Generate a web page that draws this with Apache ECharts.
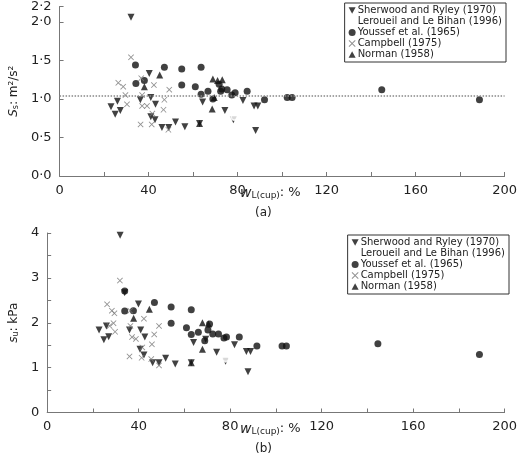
<!DOCTYPE html>
<html>
<head>
<meta charset="utf-8">
<script src="https://cdn.jsdelivr.net/npm/echarts@6/dist/echarts.min.js"></script>
<style>html,body{margin:0;padding:0;background:#fff}#chart{width:520px;height:462px}</style>
</head>
<body>
<div id="chart"></div>
<script>
// panel (a): S_s
var sherwoodA = [[32.1,2.06],[23.1,0.90],[25.0,0.80],[26,0.97],[27.3,0.85],[36.3,0.99],[40.3,1.33],[41,1.02],[41,0.77],[42.9,0.73],[43.1,0.93],[46,0.63],[49.1,0.63],[52.1,0.70],[56.3,0.64],[62.9,0.68],[64.3,0.96],[74.3,0.85],[78.1,0.73],[82.4,0.98],[87.4,0.91],[89.1,0.91],[88.1,0.59]];
var leroueilA = [[25.1,1.40],[35.3,1.34],[45.3,1.08],[56,1.08],[72,0.75],[78.6,0.77]];
var youssefA = [[34.1,1.44],[34.3,1.20],[38.1,1.24],[47.1,1.41],[54.9,1.39],[54.9,1.18],[63.6,1.41],[61,1.16],[63.6,1.06],[66.7,1.10],[68.9,1.00],[71.7,1.19],[72.9,1.13],[72.4,1.10],[75.3,1.12],[77.4,1.05],[78.9,1.08],[84.3,1.10],[92.1,0.99],[102.3,1.02],[104.5,1.02],[144.8,1.12],[188.7,0.99]];
var campbellA = [[32.1,1.54],[26.4,1.21],[28.6,1.16],[29.6,1.05],[30.3,0.93],[36.7,1.27],[37.1,1.05],[37.1,0.91],[39.3,0.91],[36.4,0.67],[41.4,0.67],[42.4,1.18],[41.7,0.81],[46.7,0.86],[47.1,0.99],[49.3,1.12],[48.9,0.60]];
var normanA = [[38.1,1.16],[45,1.31],[68.6,0.87],[73.1,1.25],[71,1.24],[68.9,1.26],[62.9,0.68],[69.5,1.02]];
var meanA = 1.04;
// panel (b): s_u
var sherwoodB = [[31.9,3.95],[22.7,1.84],[24.8,1.62],[25.9,1.93],[26.9,1.69],[33.9,2.67],[36,1.84],[39.9,2.42],[40.9,1.84],[40.6,1.41],[42.7,1.68],[42.3,1.28],[46.1,1.11],[48.9,1.11],[51.8,1.21],[56,1.08],[63,1.11],[64,1.56],[69.3,1.63],[74.1,1.34],[78,1.14],[81.9,1.51],[87.1,1.36],[88.9,1.36],[87.8,0.91]];
var leroueilB = [[24.8,2.79],[34.9,2.51],[45.1,1.90],[55.9,1.82],[71.7,1.19],[78,1.21]];
var youssefB = [[33.9,2.71],[33.9,2.26],[37.7,2.27],[46.9,2.45],[54.2,2.35],[54.2,1.99],[63,2.29],[60.9,1.89],[63,1.74],[66.1,1.79],[68.9,1.60],[71,1.97],[70.3,1.84],[72.4,1.75],[74.9,1.75],[77.3,1.66],[78.4,1.68],[84,1.68],[91.7,1.48],[102.7,1.48],[104.6,1.48],[144.6,1.53],[189,1.29]];
var campbellB = [[31.8,2.94],[26.2,2.41],[28.3,2.27],[29.4,2.21],[29,1.99],[27.3,1.93],[29.7,1.80],[36.3,2.27],[36.4,1.93],[37.1,1.68],[38.8,1.64],[36,1.25],[41.3,1.22],[41.6,1.45],[42.3,2.09],[46.8,1.74],[45.8,1.52],[48.9,1.93],[48.9,1.05],[45.5,1.19]];
var normanB = [[37.8,2.10],[44.7,2.30],[67.9,1.41],[67.9,2.00],[63,1.11],[70.5,1.97]];
var names = ['Sherwood and Ryley (1970)','Leroueil and Le Bihan (1996)','Youssef et al. (1965)','Campbell (1975)','Norman (1958)'];

var crossPath = 'path://M0,1L1,0L5,4L9,0L10,1L6,5L10,9L9,10L5,6L1,10L0,9L4,5Z';
var downTri = 'path://M0,0L10,0L5,9Z';
var upTri = 'path://M0,9L10,9L5,0Z';
var font = 'DejaVu Sans';
var axisCol = '#777';

function xAxis(i) {
  return {gridIndex:i, type:'value', min:0, max:200, interval:40,
    axisLine:{lineStyle:{color:axisCol}}, axisTick:{inside:true, length:4, lineStyle:{color:axisCol}},
    minorTick:{show:true, splitNumber:2, length:4, lineStyle:{color:axisCol}},
    splitLine:{show:false}, axisLabel:{color:'#222', fontSize:13, fontFamily:font}};
}
function yAxis(i, max, decimals, nm) {
  return {gridIndex:i, type:'value', min:0, max:max, interval:0.5,
    axisLine:{show:true, lineStyle:{color:axisCol}}, axisTick:{inside:true, length:4, lineStyle:{color:axisCol}},
    splitLine:{show:false}, name:nm, nameLocation:'middle', nameGap:decimals ? 24 : 18, nameRotate:90,
    nameTextStyle:{color:'#222', fontSize:12, fontFamily:font,
      rich:{i:{fontStyle:'italic', fontSize:12, fontFamily:font}, s:{fontSize:8, verticalAlign:'bottom', fontFamily:font}}},
    axisLabel:{color:'#222', fontSize:13, fontFamily:font, formatter:function(v){
      if (decimals) return v.toFixed(1).replace('.', '·');
      return Number.isInteger(v) ? String(v) : '';
    }}};
}
function sets(i, s, l, y, c, n) {
  var base = {type:'scatter', xAxisIndex:i, yAxisIndex:i, symbolSize:7};
  return [
    Object.assign({}, base, {name:names[0], data:s, symbol:downTri, itemStyle:{color:'#111'}}),
    Object.assign({}, base, {name:names[1], data:l, symbol:'emptyCircle', itemStyle:{color:'#fff', borderColor:'#888', borderWidth:1}}),
    Object.assign({}, base, {name:names[2], data:y, symbol:'circle', itemStyle:{color:'#111'}}),
    Object.assign({}, base, {name:names[3], data:c, symbol:crossPath, symbolSize:6, itemStyle:{color:'#777'}}),
    Object.assign({}, base, {name:names[4], data:n, symbol:upTri, itemStyle:{color:'#111'}})
  ];
}
var icons = [downTri, 'emptyCircle', 'circle', crossPath, upTri];
function legend(top, right) {
  return {data:names.map(function(nm, k){return {name:nm, icon:icons[k]};}),
    orient:'vertical', top:top, right:right, itemGap:0, itemWidth:7, itemHeight:7,
    padding:[2,4,2,3], borderColor:'#333', borderWidth:1, borderRadius:0, backgroundColor:'#fff',
    textStyle:{fontSize:10, fontFamily:font, color:'#222', padding:[0,0,0,-3], lineHeight:11}};
}

var seriesA = sets(0, sherwoodA, leroueilA, youssefA, campbellA, normanA);
seriesA[2].markLine = {silent:true, symbol:'none', label:{show:false},
  lineStyle:{color:'#888', type:'dotted', width:1.5}, data:[{yAxis:meanA}]};
var seriesB = sets(1, sherwoodB, leroueilB, youssefB, campbellB, normanB);

var chart = echarts.init(document.getElementById('chart'));
chart.setOption({
  animation:false,
  grid:[{left:39, right:14, top:0, height:176}, {left:34, right:11, top:233, height:179.5}],
  xAxis:[xAxis(0), xAxis(1)],
  yAxis:[yAxis(0, 2.2, true, '{i|S}{s|s}: m²/s²'), yAxis(1, 4, false, '{i|s}{s|u}: kPa')],
  legend:[legend(3, 14), legend(235, 11)],
  series:seriesA.concat(seriesB),
  graphic:[
    {type:'text', left:240, top:186, style:{text:'{i|w}{s|L(cup)}: %', fontSize:13, fontFamily:font, fill:'#222',
      rich:{i:{fontStyle:'italic', fontSize:14, fontFamily:font}, s:{fontSize:9, verticalAlign:'bottom', fontFamily:font}}}},
    {type:'text', left:255, top:207, style:{text:'(a)', fontSize:12, fontFamily:font, fill:'#222'}},
    {type:'text', left:240, top:422, style:{text:'{i|w}{s|L(cup)}: %', fontSize:13, fontFamily:font, fill:'#222',
      rich:{i:{fontStyle:'italic', fontSize:14, fontFamily:font}, s:{fontSize:9, verticalAlign:'bottom', fontFamily:font}}}},
    {type:'text', left:255, top:443, style:{text:'(b)', fontSize:12, fontFamily:font, fill:'#222'}}
  ]
});
</script>
</body>
</html>
